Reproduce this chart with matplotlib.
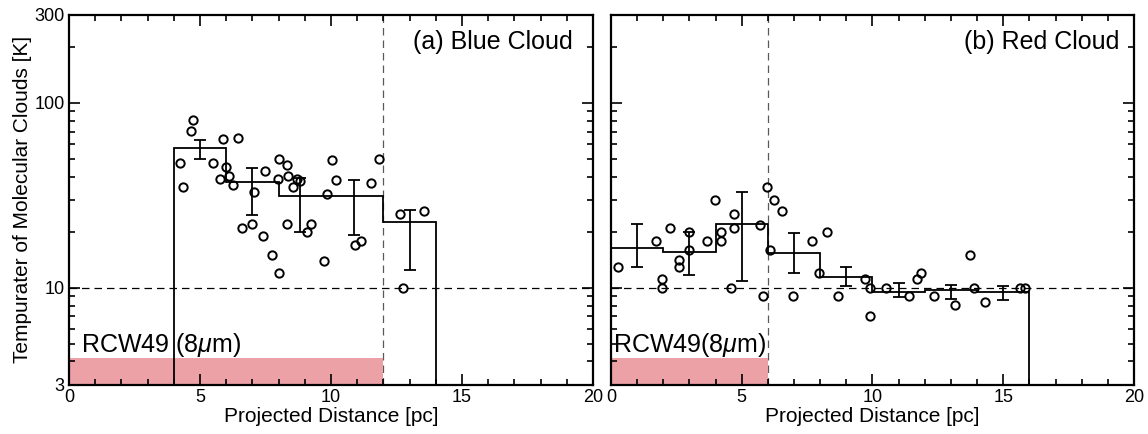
import numpy as np
import matplotlib
matplotlib.use("Agg")
import matplotlib.pyplot as plt
from matplotlib.ticker import FixedLocator, LogLocator, NullFormatter, MultipleLocator

plt.rcParams['font.family'] = ['Liberation Sans', 'DejaVu Sans']
plt.rcParams['mathtext.fontset'] = 'custom'
plt.rcParams['mathtext.it'] = 'Liberation Sans:italic'
plt.rcParams['mathtext.rm'] = 'Liberation Sans'

# ---- (a) Blue cloud ----
blue_x = [4.25, 4.36, 4.64, 4.75, 5.48, 5.89, 6.45, 6.0, 5.75, 6.09, 6.26, 7.05, 7.47,
          8.0, 8.32, 7.99, 8.36, 8.54, 8.71, 8.83, 9.85, 10.03, 10.2, 11.53, 11.85,
          6.6, 6.98, 7.39, 7.73, 8.02, 8.32, 9.1, 9.22, 9.75, 10.9, 11.13,
          12.65, 13.56, 12.76]
blue_t = [47.2, 34.9, 70.2, 80.4, 47.2, 64, 65, 45, 39, 40.3, 36, 33, 42.9,
          50, 46, 39, 40.2, 34.9, 39, 37.8, 32, 49, 38.1, 37, 50,
          21, 22.1, 19.1, 15, 12, 22.1, 20, 22.1, 14, 17.1, 18,
          25.1, 26, 10]
blue_edges = [4, 6, 8, 12, 14]
blue_step = [56.8, 37.4, 31.3, 22.8]
blue_err_x = [5, 7, 8.8, 10.87, 13]
blue_err_mid = [56.8, 37.4, 31.3, 31.3, 22.8]
blue_err_lo = [49.5, 24.9, 20.0, 19.4, 12.5]
blue_err_hi = [62.7, 44.4, 39.2, 38.5, 26.4]

# ---- (b) Red cloud ----
red_x = [0.26, 1.72, 1.97, 1.97, 2.25, 2.61, 2.61, 2.99, 2.99, 3.69, 3.97, 4.22, 4.22,
         4.69, 4.69, 4.59, 5.7, 5.83, 5.98, 6.25, 6.55, 6.07, 6.96, 7.7, 8.26, 7.94,
         8.68, 9.71, 9.91, 9.91, 10.5, 11.41, 11.69, 11.87, 12.37, 13.16, 13.72,
         13.87, 14.29, 15.66, 15.85]
red_t = [13, 18, 11.1, 10, 21, 14.1, 13, 20, 16.1, 18, 29.9, 20, 18,
         25, 21, 10, 21.9, 9.06, 34.9, 29.9, 26.1, 16.1, 9.06, 18, 20, 12,
         9.06, 11.1, 10, 7.03, 10, 9.06, 11.1, 12, 9.06, 8.06, 15.1,
         10, 8.34, 10, 10]
red_edges = [0, 2, 4, 6, 8, 10, 12, 14, 16]
red_step = [16.5, 15.6, 22.2, 15.5, 11.5, 9.44, 9.7, 9.44]
red_err_x = [1, 3, 5, 7, 9, 11, 13, 15]
red_err_mid = [16.5, 15.6, 22.2, 15.5, 11.5, 9.44, 9.7, 9.44]
red_err_lo = [13, 11.8, 10.9, 12.1, 10.2, 8.9, 8.75, 8.6]
red_err_hi = [22.2, 20, 33, 19.8, 12.9, 10.6, 10.4, 10.2]

panels = [
    ("(a) Blue Cloud", "RCW49 (8$\\mathit{\\mu}$m)", 12, 0.46, blue_x, blue_t, blue_edges, blue_step,
     blue_err_x, blue_err_mid, blue_err_lo, blue_err_hi),
    ("(b) Red Cloud", "RCW49(8$\\mathit{\\mu}$m)", 6, 0.09, red_x, red_t, red_edges, red_step,
     red_err_x, red_err_mid, red_err_lo, red_err_hi),
]

fig = plt.figure(figsize=(11.48, 4.34), dpi=100)
positions = [[0.0601, 0.114, 0.4564, 0.852], [0.5322, 0.114, 0.4556, 0.852]]
pink = '#eba1a6'

for i, (title, rcw, xv, tx, px, pt, edges, step, ex, emid, elo, ehi) in enumerate(panels):
    ax = fig.add_axes(positions[i])
    ax.set_yscale('log')
    ax.set_xlim(0, 20)
    ax.set_ylim(3, 300)

    ax.axhline(10, color='black', ls=(0, (6, 4)), lw=0.9, zorder=1)
    ax.axvline(xv, color='0.35', ls=(0, (6, 4)), lw=0.9, zorder=1)
    ax.fill_between([0, xv], 3, 4.17, color=pink, lw=0, zorder=1.5)
    ax.text(tx, 4.5, rcw, fontsize=18, ha='left', va='baseline', zorder=3)

    ax.stairs(step, edges, baseline=3, color='black', lw=1.3, zorder=2)
    emid = np.array(emid)
    yerr = [emid - np.array(elo), np.array(ehi) - emid]
    ax.errorbar(ex, emid, yerr=yerr, fmt='none', ecolor='black', elinewidth=1.3,
                capsize=4.5, capthick=1.3, zorder=2)
    ax.plot(px, pt, 'o', mfc='none', mec='black', ms=6, mew=1.4, zorder=3)

    ax.text(0.962 if i == 0 else 0.973, 0.958, title, transform=ax.transAxes,
            fontsize=18, ha='right', va='top')

    ax.xaxis.set_major_locator(MultipleLocator(5))
    ax.xaxis.set_minor_locator(MultipleLocator(1))
    ax.yaxis.set_major_locator(FixedLocator([3, 10, 100, 300]))
    ax.yaxis.set_minor_locator(LogLocator(subs=np.arange(2, 10)))
    ax.yaxis.set_minor_formatter(NullFormatter())
    if i == 0:
        ax.set_yticklabels(['3', '10', '100', '300'])
        ax.set_ylabel('Tempurater of Molecular Clouds [K]', fontsize=15, labelpad=2)
    else:
        ax.set_yticklabels([])
    ax.tick_params(which='both', direction='in', top=True, right=True, labelsize=13, pad=3)
    ax.tick_params(which='major', length=8, width=1.2)
    ax.tick_params(which='minor', length=4, width=1.2)
    ax.set_xlabel('Projected Distance [pc]', fontsize=15, labelpad=1)
    for s in ax.spines.values():
        s.set_linewidth(1.6)

fig.savefig('out.png', dpi=100)
